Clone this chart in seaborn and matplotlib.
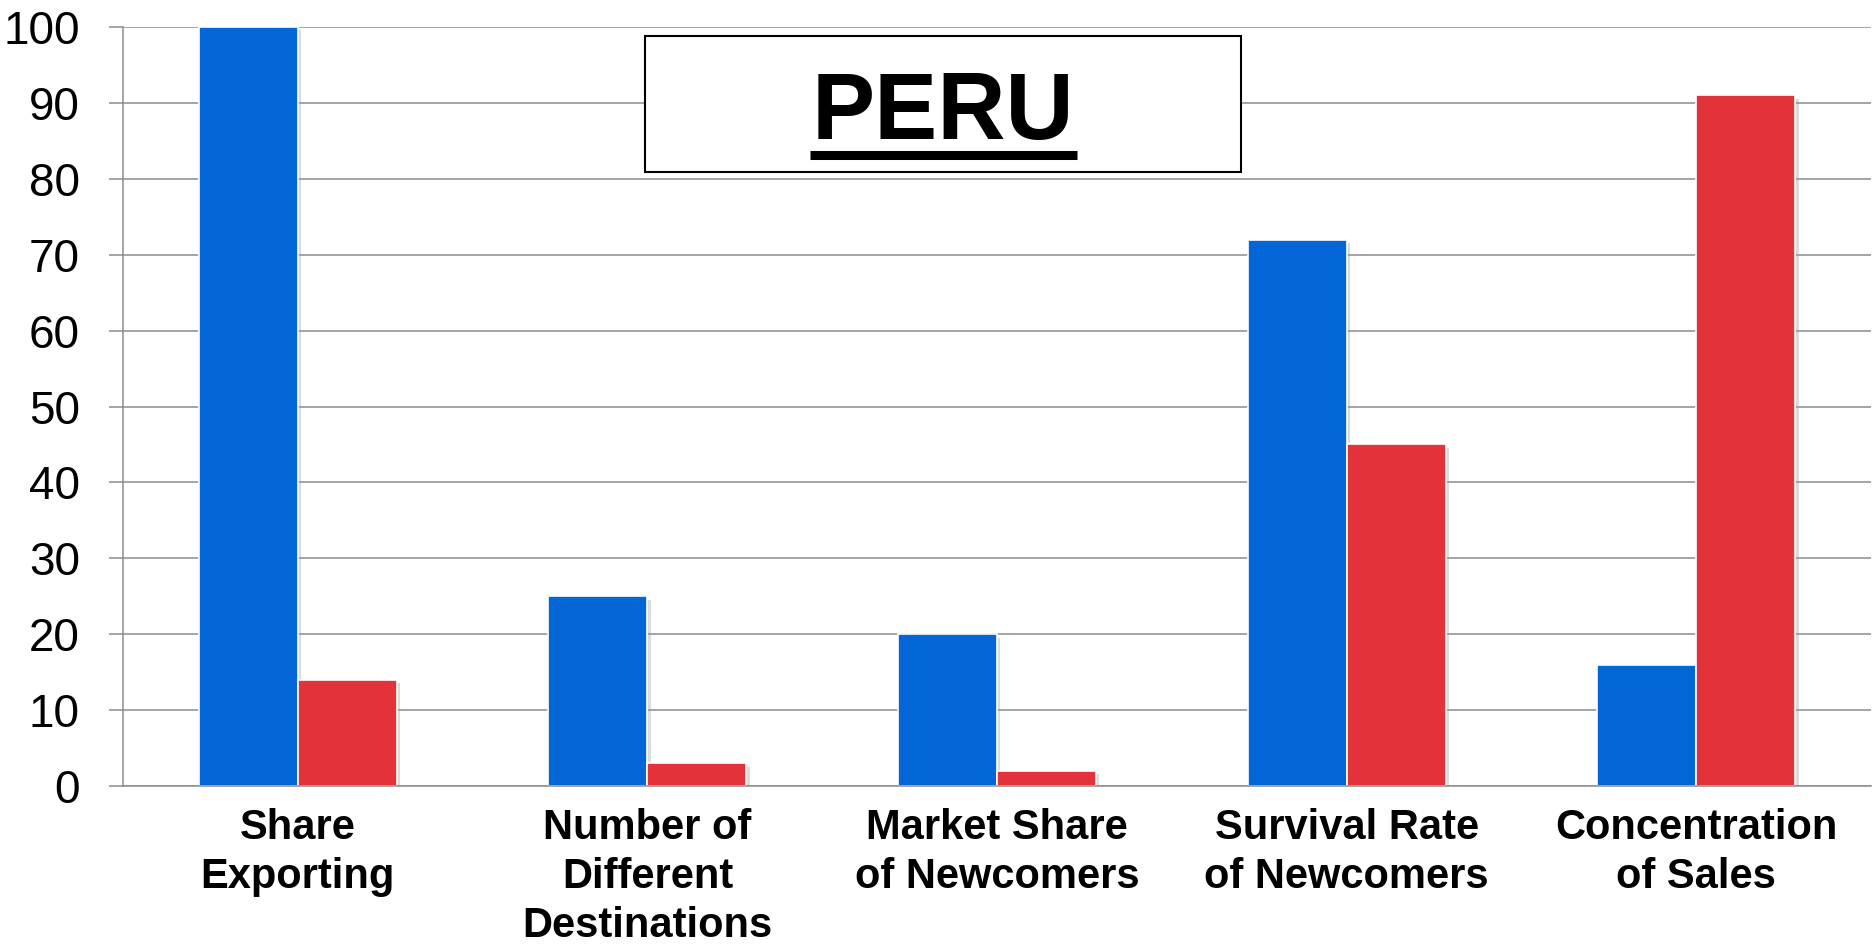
import matplotlib
matplotlib.use("Agg")
import matplotlib.pyplot as plt
import matplotlib.patheffects as pe
from matplotlib.patches import Rectangle
from matplotlib.lines import Line2D
import seaborn as sns
import pandas as pd

# ---- data ----
categories = [
    "Share\nExporting",
    "Number of\nDifferent\nDestinations",
    "Market Share\nof Newcomers",
    "Survival Rate\nof Newcomers",
    "Concentration\nof Sales",
]
series_names = ["first", "second"]
blue_values = [100, 25, 20, 72, 16]
red_values = [14, 3, 2, 45, 91]
y_ticks = [0, 10, 20, 30, 40, 50, 60, 70, 80, 90, 100]
title_text = "PERU"

BLUE = "#0366D6"
RED = "#E4323A"
GRID = "#8C8C8C"

sns.set_style("white")
plt.rcParams["font.family"] = ["Liberation Sans", "DejaVu Sans"]
plt.rcParams["text.color"] = "black"
plt.rcParams["xtick.labelcolor"] = "black"
plt.rcParams["ytick.labelcolor"] = "black"

df = pd.DataFrame({
    "indicator": categories * 2,
    "series": [series_names[0]] * len(categories) + [series_names[1]] * len(categories),
    "value": blue_values + red_values,
})

W, H = 1874, 952
fig = plt.figure(figsize=(W / 100, H / 100), dpi=100)
ax = fig.add_axes([123 / W, 1 - 786 / H, (1871 - 123) / W, (786 - 27) / H])

sns.barplot(
    data=df, x="indicator", y="value", hue="series", order=categories,
    hue_order=series_names, palette=[BLUE, RED], saturation=1,
    width=0.566, gap=0, edgecolor="white", linewidth=1.2,
    legend=False, ax=ax, errorbar=None,
)

# soft drop shadow under the bars
for p in ax.patches:
    p.set_path_effects([
        pe.SimplePatchShadow(offset=(2.5, -2.5), shadow_rgbFace="#999999", alpha=0.35),
        pe.Normal(),
    ])

ax.set_xlim(-0.5, len(categories) - 0.5)
ax.set_ylim(0, 100)
ax.set_yticks(y_ticks)
ax.set_yticklabels([str(t) for t in y_ticks], fontsize=33, color="black")
ax.set_xlabel("")
ax.set_ylabel("")

ax.set_xticks(range(len(categories)))
ax.set_xticklabels(categories, fontsize=30, fontweight="bold", color="black",
                   linespacing=1.3)
ax.set_xticks([i - 0.5 for i in range(len(categories) + 1)], minor=True)
ax.tick_params(axis="x", which="major", length=0, pad=15.5)
ax.tick_params(axis="x", which="minor", length=10, width=1.1, color=GRID, direction="out")
ax.tick_params(axis="y", length=10, width=1.1, color=GRID, pad=21, left=True)

ax.set_axisbelow(True)
ax.yaxis.grid(True, color=GRID, linewidth=1.1)
ax.xaxis.grid(False)
for side in ("top", "right"):
    ax.spines[side].set_visible(False)
for side in ("left", "bottom"):
    ax.spines[side].set_color(GRID)
    ax.spines[side].set_linewidth(1.1)

# boxed, underlined title
box = Rectangle((645 / W, 1 - 172 / H), 596 / W, 136 / H, transform=fig.transFigure,
                facecolor="white", edgecolor="black", linewidth=1.5, zorder=5)
fig.patches.append(box)
fig.text(943 / W, 1 - 139 / H, title_text, ha="center", va="baseline",
         fontsize=68, fontweight="bold", color="black", zorder=6)
fig.lines.append(Line2D([810 / W, 1077 / W], [1 - 154.5 / H, 1 - 154.5 / H],
                        transform=fig.transFigure, color="black", linewidth=6.5,
                        solid_capstyle="butt", zorder=6))

fig.savefig("out.png", dpi=100)
